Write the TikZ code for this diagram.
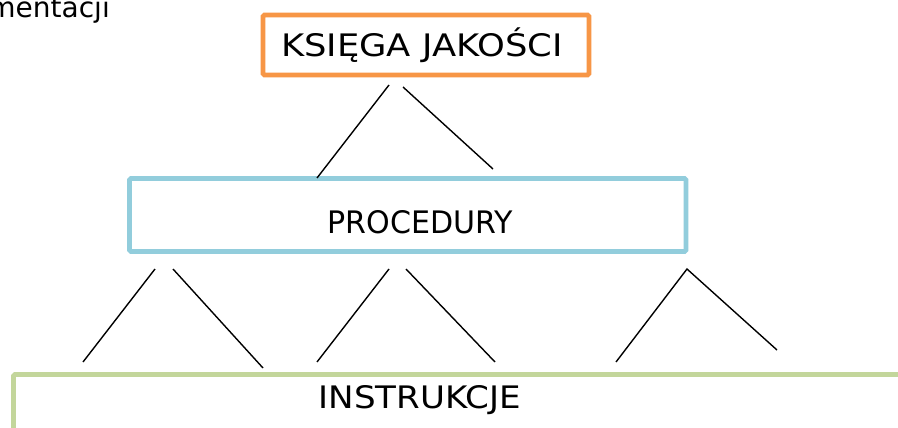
\documentclass[tikz,border=0pt]{standalone}
\usepackage{fontspec}
\setmainfont{DejaVu Sans}
\definecolor{orangeB}{HTML}{F79646}
\definecolor{blueB}{HTML}{92CDDC}
\definecolor{greenB}{HTML}{C3D69B}
\tikzset{
  boxstyle/.style={draw, line width=4.8pt, rounded corners=1.5pt, fill=white, inner sep=0pt},
  lbl/.style={font=\fontsize{31}{36}\selectfont, inner sep=0pt, anchor=center},
  conn/.style={draw=black, line width=1.4pt}
}
\begin{document}
\begin{tikzpicture}[x=1pt,y=-1pt]
\useasboundingbox (0,0) rectangle (898,428);
\fill[white] (0,0) rectangle (898,428);
% boxes
\node[boxstyle, draw=orangeB, minimum width=326pt, minimum height=60pt] (ksiega) at (426,45) {};
\node[boxstyle, draw=blueB, minimum width=556.5pt, minimum height=73pt] (proc) at (407.75,215) {};
\node[boxstyle, draw=greenB, minimum width=900pt, minimum height=120pt] (instr) at (463.5,434.5) {};
% texts
\node[lbl] (ksiegaT) at (422,45) {\scalebox{1.14}[1]{KSIĘGA JAKOŚCI}};
\node[lbl] (procT) at (420,222) {\scalebox{0.97}[1]{PROCEDURY}};
\node[lbl] (instrT) at (420,400) {\scalebox{1.1}[1]{INSTRUKCJE}};
\node[font=\fontsize{28}{32}\selectfont, inner sep=0pt, anchor=base east] (tytul) at (110,18) {mentacji};
% connector end points
\coordinate (a1) at (389,85);  \coordinate (a2) at (317,178);
\coordinate (b1) at (403,87);  \coordinate (b2) at (493,169);
\coordinate (c1) at (155,269); \coordinate (c2) at (83,362);
\coordinate (d1) at (173,269); \coordinate (d2) at (263,368);
\coordinate (e1) at (389,269); \coordinate (e2) at (317,362);
\coordinate (f1) at (406,269); \coordinate (f2) at (495,362);
\coordinate (g0) at (687,269); \coordinate (g1) at (616,362); \coordinate (g2) at (777,350);
% connectors
\draw[conn] (a1) -- (a2);
\draw[conn] (b1) -- (b2);
\draw[conn] (c1) -- (c2);
\draw[conn] (d1) -- (d2);
\draw[conn] (e1) -- (e2);
\draw[conn] (f1) -- (f2);
\draw[conn] (g1) -- (g0) -- (g2);
\end{tikzpicture}
\end{document}
